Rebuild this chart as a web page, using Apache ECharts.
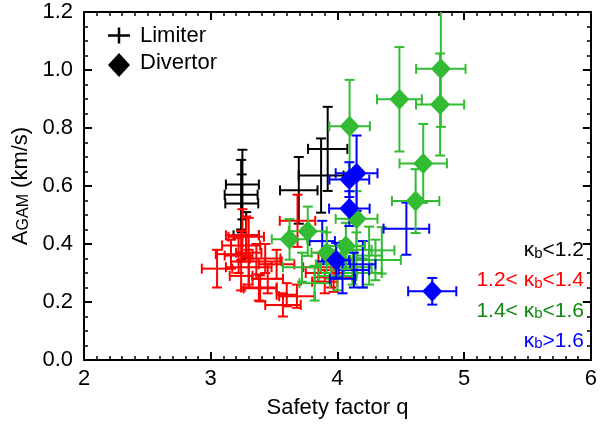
<!DOCTYPE html>
<html>
<head>
<meta charset="utf-8">
<script src="https://cdn.jsdelivr.net/npm/echarts@6/dist/echarts.min.js"></script>
<style>html,body{margin:0;padding:0;background:#fff}#c{width:600px;height:424px}</style>
</head>
<body>
<div id="c"></div>
<script>
// [q, A_GAM, q error, A error]
const blackLimiter = [
  [3.25, 0.605, 0.13, 0.12],
  [3.24, 0.57, 0.13, 0.12],
  [3.245, 0.54, 0.13, 0.10],
  [3.28, 0.43, 0.10, 0.08],
  [3.695, 0.585, 0.148, 0.115],
  [3.871, 0.636, 0.177, 0.128],
  [3.923, 0.728, 0.155, 0.145]
];
const redLimiter = [
  [3.05, 0.315, 0.12, 0.065],
  [3.16, 0.365, 0.12, 0.05],
  [3.24, 0.395, 0.15, 0.05],
  [3.28, 0.425, 0.14, 0.07],
  [3.25, 0.43, 0.13, 0.09],
  [3.22, 0.36, 0.11, 0.06],
  [3.30, 0.37, 0.10, 0.12],
  [3.36, 0.34, 0.20, 0.06],
  [3.24, 0.29, 0.09, 0.05],
  [3.38, 0.25, 0.14, 0.045],
  [3.60, 0.225, 0.08, 0.04],
  [3.57, 0.19, 0.14, 0.04],
  [3.68, 0.22, 0.14, 0.04],
  [3.39, 0.247, 0.13, 0.045],
  [3.685, 0.48, 0.14, 0.09],
  [3.43, 0.35, 0.12, 0.05],
  [3.52, 0.33, 0.14, 0.05],
  [3.95, 0.30, 0.20, 0.05],
  [3.97, 0.285, 0.15, 0.05],
  [3.85, 0.32, 0.12, 0.05],
  [3.30, 0.32, 0.18, 0.06],
  [3.45, 0.28, 0.12, 0.05],
  [3.90, 0.27, 0.10, 0.04]
];
const greenLimiter = [
  [4.35, 0.378, 0.10, 0.08],
  [4.30, 0.345, 0.20, 0.07],
  [4.12, 0.32, 0.15, 0.06],
  [4.20, 0.30, 0.15, 0.05],
  [3.82, 0.265, 0.12, 0.06],
  [4.00, 0.29, 0.15, 0.05],
  [4.25, 0.36, 0.10, 0.10],
  [3.95, 0.33, 0.12, 0.05],
  [4.05, 0.35, 0.15, 0.06],
  [3.72, 0.32, 0.15, 0.05],
  [4.15, 0.38, 0.12, 0.06]
];
const blueLimiter = [
  [4.544, 0.453, 0.18, 0.09],
  [3.88, 0.41, 0.10, 0.07],
  [4.13, 0.31, 0.12, 0.06],
  [4.04, 0.28, 0.10, 0.05],
  [4.20, 0.33, 0.10, 0.08]
];
const greenDivertor = [
  [4.816, 1.004, 0.195, 0.20],
  [4.81, 0.881, 0.19, 0.176],
  [4.489, 0.899, 0.177, 0.18],
  [4.096, 0.806, 0.16, 0.16],
  [4.677, 0.678, 0.187, 0.136],
  [4.617, 0.548, 0.187, 0.11],
  [4.151, 0.487, 0.165, 0.095],
  [3.622, 0.416, 0.14, 0.07],
  [3.766, 0.444, 0.15, 0.085],
  [3.915, 0.37, 0.12, 0.07],
  [4.067, 0.393, 0.15, 0.08]
];
const blueDivertor = [
  [4.151, 0.644, 0.165, 0.13],
  [4.094, 0.622, 0.157, 0.06],
  [4.094, 0.522, 0.16, 0.06],
  [3.99, 0.344, 0.10, 0.06],
  [4.748, 0.237, 0.19, 0.046]
];
const kappaLabels = [
  {pre: '', post: '<1.2', color: '#000000'},
  {pre: '1.2< ', post: '<1.4', color: '#ff0000'},
  {pre: '1.4< ', post: '<1.6', color: '#118811'},
  {pre: '', post: '>1.6', color: '#0000ff'}
];

const FONT = 'Liberation Sans';
const FS = 22;
const C = {black: '#000000', red: '#ff0000', green: '#33bb33', blue: '#0000ff'};

function errRenderer(color) {
  return function (params, api) {
    const x = api.value(0), y = api.value(1), ex = api.value(2), ey = api.value(3);
    const l = api.coord([x - ex, y]), r = api.coord([x + ex, y]);
    const t = api.coord([x, y + ey]), b = api.coord([x, y - ey]);
    const cap = 5;
    const st = {stroke: color, lineWidth: 2};
    const line = (x1, y1, x2, y2) => ({type: 'line', shape: {x1, y1, x2, y2}, style: st});
    return {type: 'group', children: [
      line(l[0], l[1], r[0], r[1]),
      line(t[0], t[1], b[0], b[1]),
      line(l[0], l[1] - cap, l[0], l[1] + cap),
      line(r[0], r[1] - cap, r[0], r[1] + cap),
      line(t[0] - cap, t[1], t[0] + cap, t[1]),
      line(b[0] - cap, b[1], b[0] + cap, b[1])
    ]};
  };
}
function errSeries(data, color) {
  return {type: 'custom', data, encode: {x: 0, y: 1}, clip: true,
    renderItem: errRenderer(color), silent: true, animation: false};
}
function diamondSeries(data, color) {
  return {type: 'scatter', data, encode: {x: 0, y: 1}, symbol: 'diamond',
    symbolSize: [20, 21], itemStyle: {color, opacity: 1}, silent: true, animation: false, clip: true};
}

const axisCommon = {
  axisLine: {show: true, onZero: false, lineStyle: {color: '#000', width: 2}},
  axisTick: {show: true, inside: true, length: 8, lineStyle: {color: '#000', width: 2}},
  minorTick: {show: true, length: 4, lineStyle: {color: '#000', width: 1.5}},
  splitLine: {show: false}
};

const chart = echarts.init(document.getElementById('c'), null, {renderer: 'canvas'});
const kappaGraphics = kappaLabels.map((k, i) => ({
  type: 'text', right: 16, top: 240 + i * 30.2,
  style: {
    text: (k.pre ? '{m|' + k.pre + '}' : '') + '{m|κ}{s|b}{m|' + k.post + '}',
    rich: {
      m: {fontFamily: FONT, fontSize: 21, fill: k.color, lineHeight: 24, verticalAlign: 'bottom'},
      s: {fontFamily: FONT, fontSize: 15, fill: k.color, lineHeight: 9, verticalAlign: 'bottom'}
    }
  }
}));

chart.setOption({
  animation: false,
  grid: {left: 84, right: 8, top: 12, bottom: 64, containLabel: false},
  xAxis: [
    Object.assign({}, axisCommon, {
      type: 'value', position: 'bottom', min: 2, max: 6, interval: 1,
      minorTick: Object.assign({}, axisCommon.minorTick, {splitNumber: 10}),
      axisLabel: {show: true, margin: 8, fontFamily: FONT, fontSize: FS, color: '#000'},
      name: 'Safety factor q', nameLocation: 'middle', nameGap: 37,
      nameTextStyle: {fontFamily: FONT, fontSize: FS, color: '#000'}
    }),
    Object.assign({}, axisCommon, {
      type: 'value', position: 'top', min: 2, max: 6, interval: 1,
      minorTick: Object.assign({}, axisCommon.minorTick, {splitNumber: 10}),
      axisLabel: {show: false}
    })
  ],
  yAxis: [
    Object.assign({}, axisCommon, {
      type: 'value', position: 'left', min: 0, max: 1.2, interval: 0.2,
      minorTick: Object.assign({}, axisCommon.minorTick, {splitNumber: 4}),
      axisLabel: {show: true, margin: 11, fontFamily: FONT, fontSize: FS, color: '#000',
        formatter: v => v.toFixed(1)},
      name: '{m|A}{s|GAM}{m| (km/s)}', nameLocation: 'middle', nameGap: 50,
      nameTextStyle: {
        rich: {
          m: {fontFamily: FONT, fontSize: FS, color: '#000', lineHeight: 25, verticalAlign: 'bottom'},
          s: {fontFamily: FONT, fontSize: 16, color: '#000', lineHeight: 11, verticalAlign: 'bottom'}
        }
      }
    }),
    Object.assign({}, axisCommon, {
      type: 'value', position: 'right', min: 0, max: 1.2, interval: 0.2,
      minorTick: Object.assign({}, axisCommon.minorTick, {splitNumber: 4}),
      axisLabel: {show: false}
    })
  ],
  graphic: [
    {type: 'line', shape: {x1: 108, y1: 35.5, x2: 130, y2: 35.5}, style: {stroke: '#000', lineWidth: 2.5}},
    {type: 'line', shape: {x1: 119, y1: 27.5, x2: 119, y2: 43.5}, style: {stroke: '#000', lineWidth: 2.5}},
    {type: 'polygon', shape: {points: [[119, 53], [130, 65], [119, 77], [108, 65]]}, style: {fill: '#000'}},
    {type: 'text', left: 140, top: 25, style: {text: 'Limiter', fontFamily: FONT, fontSize: FS, fill: '#000'}},
    {type: 'text', left: 140, top: 52, style: {text: 'Divertor', fontFamily: FONT, fontSize: FS, fill: '#000'}}
  ].concat(kappaGraphics),
  series: [
    errSeries(blackLimiter, C.black),
    errSeries(redLimiter, C.red),
    errSeries(greenLimiter, C.green),
    errSeries(blueLimiter, C.blue),
    errSeries(greenDivertor, C.green),
    errSeries(blueDivertor, C.blue),
    diamondSeries(greenDivertor, C.green),
    diamondSeries(blueDivertor, C.blue)
  ]
});
</script>
</body>
</html>
